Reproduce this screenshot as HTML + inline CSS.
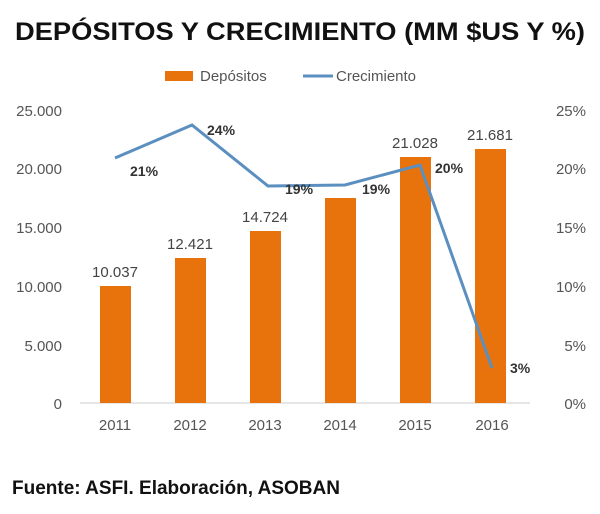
<!DOCTYPE html>
<html><head><meta charset="utf-8"><style>
body{margin:0;background:#fff;width:600px;height:509px;overflow:hidden;font-family:"Liberation Sans",sans-serif}
</style></head><body>
<svg width="600" height="509" xmlns="http://www.w3.org/2000/svg">
<text x="300" y="40" text-anchor="middle" font-size="25" font-weight="bold" fill="#111" textLength="570" lengthAdjust="spacingAndGlyphs">DEPÓSITOS Y CRECIMIENTO (MM $US Y %)</text>
<rect x="165" y="71" width="28" height="10" fill="#e8730c"/>
<text x="200" y="81" font-size="15" fill="#555">Depósitos</text>
<line x1="303" y1="76" x2="333" y2="76" stroke="#5b8fc0" stroke-width="3"/>
<text x="336" y="81" font-size="15" fill="#555">Crecimiento</text>
<g font-size="15" fill="#555" text-anchor="end">
<text x="62" y="116">25.000</text><text x="62" y="174">20.000</text><text x="62" y="233">15.000</text><text x="62" y="292">10.000</text><text x="62" y="351">5.000</text><text x="62" y="409">0</text>
</g>
<g font-size="15" fill="#555" text-anchor="end">
<text x="586" y="116">25%</text><text x="586" y="174">20%</text><text x="586" y="233">15%</text><text x="586" y="292">10%</text><text x="586" y="351">5%</text><text x="586" y="409">0%</text>
</g>
<line x1="80" y1="403" x2="530" y2="403" stroke="#ccc"/>
<g fill="#e8730c">
<rect x="100" y="286" width="31" height="117"/>
<rect x="175" y="258" width="31" height="145"/>
<rect x="250" y="231" width="31" height="172"/>
<rect x="325" y="198" width="31" height="205"/>
<rect x="400" y="157" width="31" height="246"/>
<rect x="475" y="149" width="31" height="254"/>
</g>
<g font-size="15" fill="#444" text-anchor="middle">
<text x="115" y="277">10.037</text><text x="190" y="249">12.421</text><text x="265" y="222">14.724</text>
<text x="415" y="148">21.028</text><text x="490" y="140">21.681</text>
</g>
<polyline points="115,158 192,125 268,186 345,185 420,165 492,368" fill="none" stroke="#5b8fc0" stroke-width="3"/>
<g font-size="14" font-weight="bold" fill="#333">
<text x="130" y="176">21%</text><text x="207" y="135">24%</text><text x="285" y="194">19%</text><text x="362" y="194">19%</text><text x="435" y="173">20%</text><text x="510" y="373">3%</text>
</g>
<g font-size="15" fill="#555" text-anchor="middle">
<text x="115" y="430">2011</text><text x="190" y="430">2012</text><text x="265" y="430">2013</text><text x="340" y="430">2014</text><text x="415" y="430">2015</text><text x="492" y="430">2016</text>
</g>
<text x="12" y="494" font-size="19" font-weight="bold" fill="#111">Fuente: ASFI. Elaboración, ASOBAN</text>
</svg>
</body></html>
